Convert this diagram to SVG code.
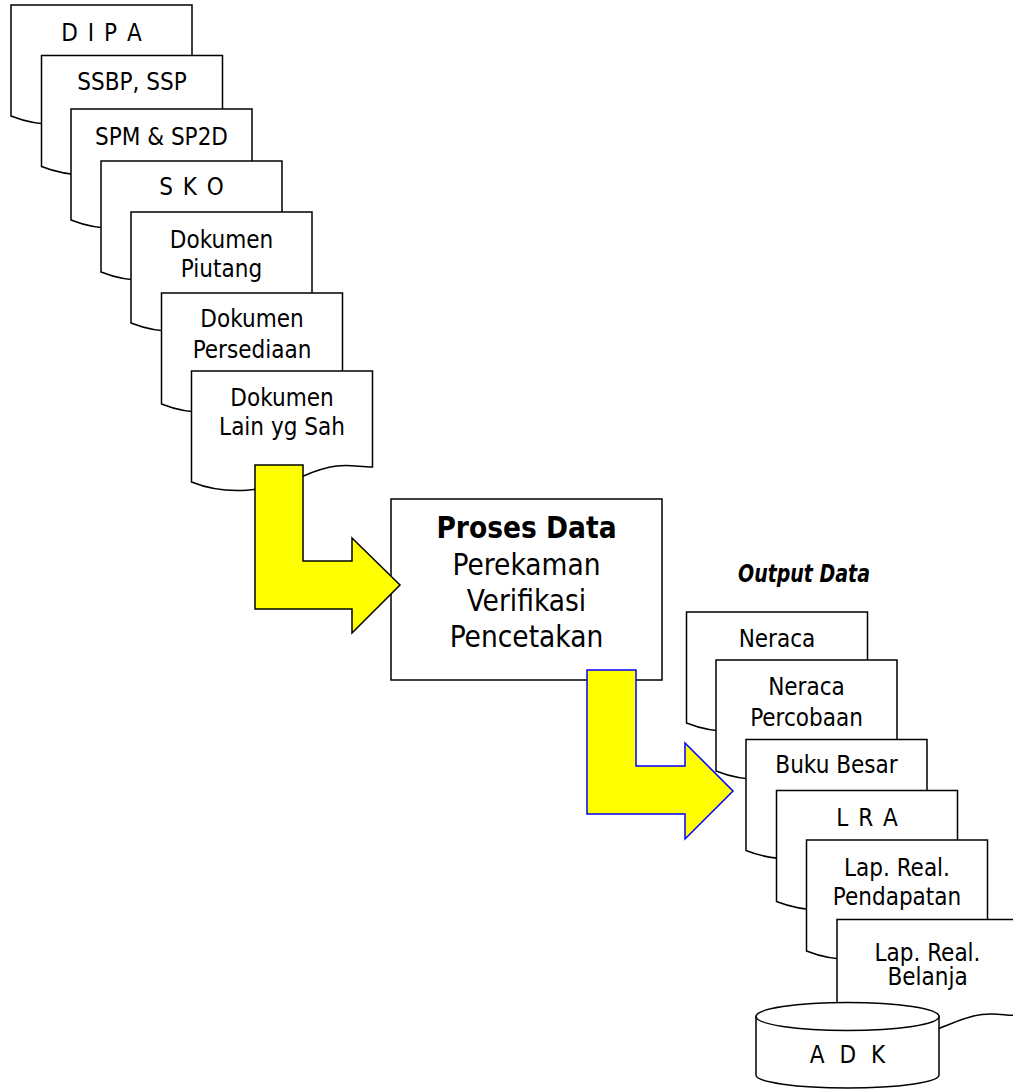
<svg xmlns="http://www.w3.org/2000/svg" xmlns:xlink="http://www.w3.org/1999/xlink" width="1013" height="1089" viewBox="0 0 1013 1089">
<style>
.shape{fill:#fff;stroke:#000;stroke-width:1.5}
.t{font-family:"DejaVu Sans Condensed","DejaVu Sans",sans-serif;font-stretch:condensed;font-size:24px;text-anchor:middle;fill:#000}
.sp{word-spacing:3px}
.pt{font-size:29.5px}
.arrow{fill:#ffff00;stroke-width:1.5;stroke-linejoin:miter}
</style>
<defs>
<path id="doc" d="M0,0 H181 V96 C160,96 149,89 112,105 C75,121 35,125 0,111 Z"/>
</defs>
<rect width="1013" height="1089" fill="#fff"/>
<g id="doc-dipa"><use xlink:href="#doc" href="#doc" class="shape" x="11" y="5"/><text class="t sp" x="101.5" y="41">D I P A</text></g>
<g id="doc-ssbp"><use xlink:href="#doc" href="#doc" class="shape" x="41.5" y="55.5"/><text class="t" x="132" y="90">SSBP, SSP</text></g>
<g id="doc-spm"><use xlink:href="#doc" href="#doc" class="shape" x="71" y="109"/><text class="t" x="161.5" y="145">SPM &amp; SP2D</text></g>
<g id="doc-sko"><use xlink:href="#doc" href="#doc" class="shape" x="101" y="161"/><text class="t sp" x="191.5" y="195">S K O</text></g>
<g id="doc-piutang"><use xlink:href="#doc" href="#doc" class="shape" x="131" y="212"/><text class="t" x="221.5" y="248">Dokumen</text><text class="t" x="221.5" y="277">Piutang</text></g>
<g id="doc-persediaan"><use xlink:href="#doc" href="#doc" class="shape" x="161.5" y="293"/><text class="t" x="252" y="327">Dokumen</text><text class="t" x="252" y="358">Persediaan</text></g>
<g id="doc-lain"><use xlink:href="#doc" href="#doc" class="shape" x="191.5" y="371"/><text class="t" x="282" y="406">Dokumen</text><text class="t" x="282" y="435">Lain yg Sah</text></g>
<g id="proses">
<rect class="shape" x="391" y="499" width="271" height="181"/>
<text class="t pt" x="526.5" y="538" font-weight="bold">Proses Data</text>
<text class="t pt" x="526.5" y="575">Perekaman</text>
<text class="t pt" x="526.5" y="611">Verifikasi</text>
<text class="t pt" x="526.5" y="647">Pencetakan</text>
</g>
<text id="output-label" class="t" x="804" y="582" font-size="24" font-weight="bold" font-style="italic" textLength="132" lengthAdjust="spacingAndGlyphs">Output Data</text>
<g id="doc-neraca"><use xlink:href="#doc" href="#doc" class="shape" x="686.5" y="612"/><text class="t" x="777" y="647">Neraca</text></g>
<g id="doc-neraca-percobaan"><use xlink:href="#doc" href="#doc" class="shape" x="716" y="660"/><text class="t" x="806.5" y="695">Neraca</text><text class="t" x="806.5" y="725.5">Percobaan</text></g>
<g id="doc-buku-besar"><use xlink:href="#doc" href="#doc" class="shape" x="746" y="739.5"/><text class="t" x="836.5" y="773">Buku Besar</text></g>
<g id="doc-lra"><use xlink:href="#doc" href="#doc" class="shape" x="776.5" y="790.5"/><text class="t sp" x="867" y="825.5">L R A</text></g>
<g id="doc-pendapatan"><use xlink:href="#doc" href="#doc" class="shape" x="806.5" y="840"/><text class="t" x="897" y="875.5">Lap. Real.</text><text class="t" x="897" y="905">Pendapatan</text></g>
<g id="doc-belanja"><use xlink:href="#doc" href="#doc" class="shape" x="837" y="919.5"/><text class="t" x="927.5" y="960.5">Lap. Real.</text><text class="t" x="927.5" y="984.5">Belanja</text></g>
<g id="adk">
<path class="shape" d="M756,1016.5 V1075 A91.5,13 0 0 0 939,1075 V1016.5 Z"/>
<ellipse class="shape" cx="847.5" cy="1016.5" rx="91.5" ry="14"/>
<text class="t" x="847.5" y="1063" font-size="28" style="word-spacing:8px">A D K</text>
</g>
<g id="connectors">
<polygon class="arrow" stroke="#000" points="255,465 303,465 303,561 352,561 352,538 400,585 352,633 352,609 255,609"/>
<polygon class="arrow" stroke="#0000ff" points="587,670 636,670 636,766 685,766 685,743 733,791 685,839 685,814 587,814"/>
</g>
</svg>
